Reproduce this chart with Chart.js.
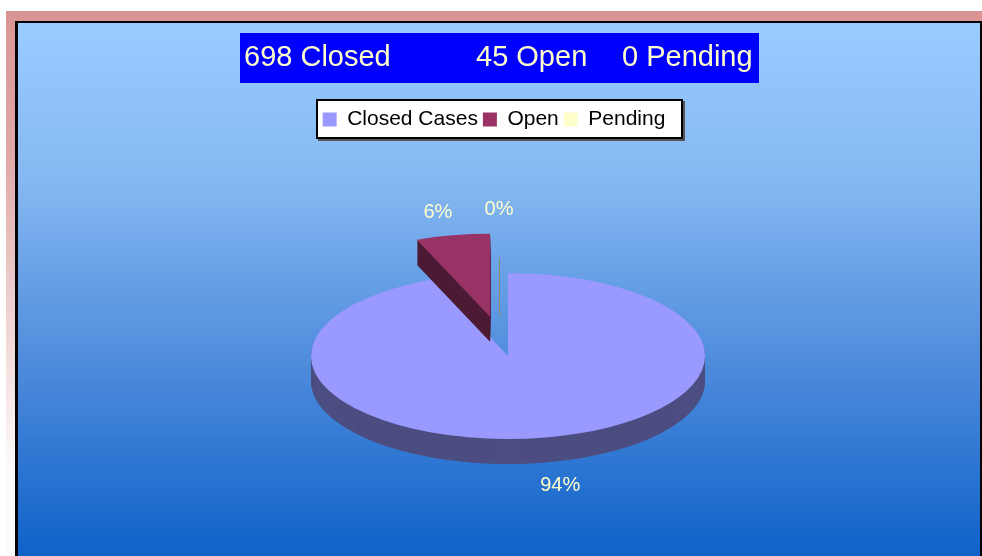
<!DOCTYPE html>
<html>
<head>
<meta charset="utf-8">
<script src="https://cdn.jsdelivr.net/npm/chart.js@4/dist/chart.umd.min.js"></script>
<style>
  html, body { margin: 0; padding: 0; background: #fff; }
  canvas { display: block; }
</style>
</head>
<body>
<canvas id="casesChart" width="982" height="556"></canvas>
<script>
// ---------------- data ----------------
const legendLabels = ['Closed Cases', 'Open', 'Pending'];
const titleLabels = ['Closed', 'Open', 'Pending'];
const caseCounts = [698, 45, 0];

// ---------------- look ----------------
const sliceColors = ['#9999FF', '#993366', '#FFFFCC'];
const sideColors = ['#4C4D80', '#4C1A33', '#807F66'];
const explode = [0, 95, 0];          // pull-out of each slice, px
const RADIUS = 197;
const TILT = 83 / 197;               // vertical squash of the pie
const DEPTH = 25;                    // thickness of the 3d pie, px
const FONT = "'Liberation Sans', Arial, sans-serif";
const CREAM = '#FFFFCC';

// frame, background gradient, title bar and legend box
const backdropPlugin = {
    id: 'backdrop',
    beforeDraw(chart) {
        const ctx = chart.ctx;
        const w = chart.width, h = chart.height;
        ctx.save();
        ctx.fillStyle = '#fff';
        ctx.fillRect(0, 0, w, h);

        // pink frame, the left side fades out to white
        let g = ctx.createLinearGradient(0, 11, 0, 470);
        g.addColorStop(0, '#D99594');
        g.addColorStop(0.3, '#DFA7A6');
        g.addColorStop(1, '#FDFBFA');
        ctx.fillStyle = g;
        ctx.fillRect(6, 11, 12, h - 11);
        ctx.fillStyle = '#D99594';
        ctx.fillRect(6, 11, w - 6, 11);

        // black border + plot background
        ctx.fillStyle = '#000';
        ctx.fillRect(15, 21, w - 15, h - 21);
        g = ctx.createLinearGradient(0, 23, 0, h);
        g.addColorStop(0, '#99CCFF');
        g.addColorStop(0.3, '#84B8F2');
        g.addColorStop(0.6, '#5590DE');
        g.addColorStop(1, '#0F62C9');
        ctx.fillStyle = g;
        ctx.fillRect(18, 23, w - 20, h - 23);

        // title bar
        ctx.fillStyle = '#0000FF';
        ctx.fillRect(240, 33, 519, 50);
        ctx.fillStyle = CREAM;
        ctx.font = '29px ' + FONT;
        ctx.textBaseline = 'middle';
        const titleX = [244, 476, 622];
        caseCounts.forEach((v, i) => {
            ctx.fillText(v + ' ' + titleLabels[i], titleX[i], 58);
        });

        // legend box (items are drawn by the legend plugin)
        ctx.fillStyle = '#555';
        ctx.fillRect(318, 101, 367, 40);
        ctx.fillStyle = '#fff';
        ctx.fillRect(316, 99, 367, 40);
        ctx.strokeStyle = '#000';
        ctx.lineWidth = 2;
        ctx.strokeRect(317, 100, 365, 38);
        ctx.restore();
    }
};

// put the legend in the white box and the pie centre where it belongs
const placePlugin = {
    id: 'place',
    afterLayout(chart) {
        const lg = chart.legend;
        lg.left = -8;
        lg.right = 996;
        lg.width = 1004;
        lg.top = 104;
        lg.bottom = 104 + lg.height;
        chart.chartArea = { left: 34, top: 156, right: 982, bottom: 556, width: 948, height: 400 };
    }
};

// 3d tilted pie: draw side walls, then the library's arc on top
const pie3dPlugin = {
    id: 'pie3d',
    beforeDatasetsDraw(chart) {
        const ctx = chart.ctx;
        const meta = chart.getDatasetMeta(0);
        const total = caseCounts.reduce((a, b) => a + b, 0);
        meta.data.forEach((arc, i) => {
            const mid = (arc.startAngle + arc.endAngle) / 2;
            const ex = explode[i];
            ctx.save();
            ctx.translate(arc.x, arc.y);
            ctx.scale(1, TILT);
            ctx.translate(-arc.x, -arc.y);
            ctx.translate(Math.cos(mid) * ex, Math.sin(mid) * ex);
            if (arc.endAngle > arc.startAngle) {
                ctx.fillStyle = sideColors[i];
                for (let d = DEPTH; d > 0; d--) {
                    ctx.beginPath();
                    ctx.moveTo(arc.x, arc.y + d / TILT);
                    ctx.arc(arc.x, arc.y + d / TILT, arc.outerRadius, arc.startAngle, arc.endAngle);
                    ctx.closePath();
                    ctx.fill();
                }
                arc.draw(ctx);
            }
            ctx.restore();
        });

        // percentage labels
        ctx.save();
        ctx.font = '20px ' + FONT;
        ctx.fillStyle = CREAM;
        ctx.textAlign = 'center';
        ctx.textBaseline = 'middle';
        meta.data.forEach((arc, i) => {
            const mid = (arc.startAngle + arc.endAngle) / 2;
            const c = Math.cos(mid), s = Math.sin(mid);
            const ex = explode[i];
            let x = arc.x + c * (ex + arc.outerRadius * 1.4);
            let y = arc.y + s * (ex + arc.outerRadius * 1.28) * TILT + (s > 0 ? DEPTH : 0);
            const pct = Math.round(caseCounts[i] / total * 100) + '%';
            if (caseCounts[i] === 0) {
                // empty slice: lift the label and add a leader line
                x -= 9;
                y -= 40;
                ctx.strokeStyle = '#8A8A70';
                ctx.lineWidth = 1;
                ctx.beginPath();
                ctx.moveTo(x + 0.5, y + 48);
                ctx.lineTo(x + 0.5, arc.y - 40);
                ctx.stroke();
            }
            ctx.fillText(pct, x, y);
        });
        ctx.restore();
        return false;
    }
};

let ctx = document.getElementById('casesChart');
let casesChart = new Chart(ctx, {
    type: 'pie',
    data: {
        labels: legendLabels,
        datasets: [{
            data: caseCounts,
            backgroundColor: sliceColors,
            borderWidth: 0,
            radius: RADIUS
        }]
    },
    options: {
        responsive: false,
        animation: false,
        devicePixelRatio: 1,
        plugins: {
            legend: {
                position: 'top',
                align: 'center',
                labels: {
                    color: '#000',
                    font: { family: FONT, size: 21 },
                    boxWidth: 14,
                    boxHeight: 14,
                    padding: 5
                }
            },
            title: { display: false },
            tooltip: { enabled: false }
        }
    },
    plugins: [backdropPlugin, placePlugin, pie3dPlugin]
});
</script>
</body>
</html>
